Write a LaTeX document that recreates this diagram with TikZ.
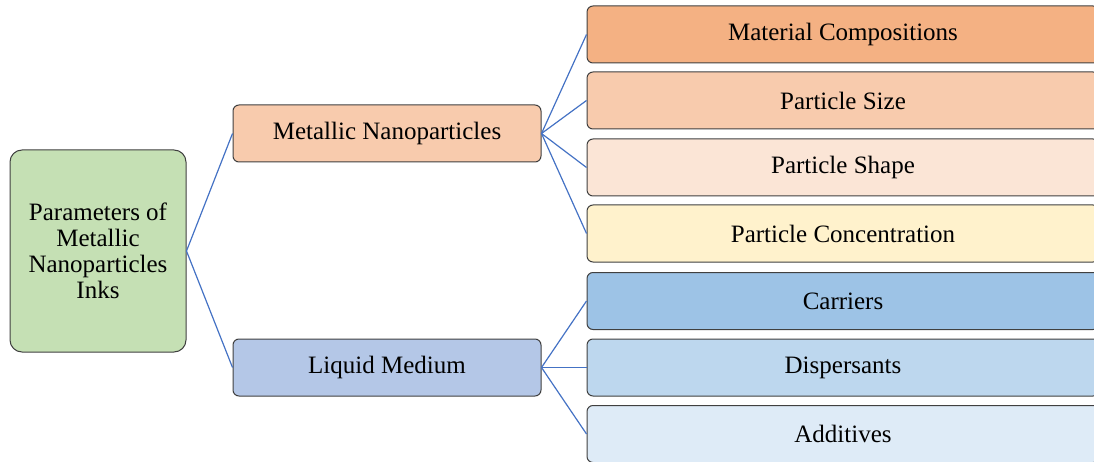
\documentclass[tikz,border=0pt]{standalone}
\usepackage{fontspec}
\setmainfont{Liberation Serif}
\definecolor{rootgreen}{HTML}{C5E0B4}
\definecolor{orangeA}{HTML}{F4B183}
\definecolor{orangeB}{HTML}{F8CBAD}
\definecolor{orangeC}{HTML}{FBE5D6}
\definecolor{yellowA}{HTML}{FFF2CC}
\definecolor{blueA}{HTML}{9DC3E6}
\definecolor{blueB}{HTML}{BDD7EE}
\definecolor{blueC}{HTML}{DEEBF7}
\definecolor{midblue}{HTML}{B4C7E7}
\definecolor{linkblue}{HTML}{4472C4}
\begin{document}
\begin{tikzpicture}[x=1pt,y=-1pt,
    box/.style={draw=black!75, line width=1pt, rounded corners=6pt, minimum height=57pt,
      inner sep=0pt, align=center, font=\fontsize{25}{26}\selectfont},
    leaf/.style={box, minimum width=512pt},
    link/.style={draw=linkblue, line width=1.2pt}]
    \useasboundingbox (0,0) rectangle (1094,462);
    \clip (0,0) rectangle (1094,462);
    % root and the two branches
    \node[box, fill=rootgreen, minimum width=176pt, minimum height=202pt, rounded corners=12pt] (root) at (98,251) {Parameters of\\Metallic\\Nanoparticles\\Inks};
    \node[box, fill=orangeB, minimum width=308pt] (metal) at (387,133.5) {Metallic Nanoparticles};
    \node[box, fill=midblue, minimum width=308pt] (liquid) at (387,367.5) {Liquid Medium};
    \draw[link] (root.east) -- (metal.west);
    \draw[link] (root.east) -- (liquid.west);
    % leaves
    \foreach \name/\ypos/\col/\txt in {comp/34.5/orangeA/Material Compositions,
        size/100.5/orangeB/Particle Size, shape/167.5/orangeC/Particle Shape,
        conc/233.5/yellowA/Particle Concentration, carr/301/blueA/Carriers,
        disp/367.5/blueB/Dispersants, addi/434/blueC/Additives}
        \node[leaf, fill=\col] (\name) at (843,\ypos) {\txt};
    \foreach \name in {comp,size,shape,conc} \draw[link] (metal.east) -- (\name.west);
    \foreach \name in {carr,disp,addi} \draw[link] (liquid.east) -- (\name.west);
\end{tikzpicture}
\end{document}
